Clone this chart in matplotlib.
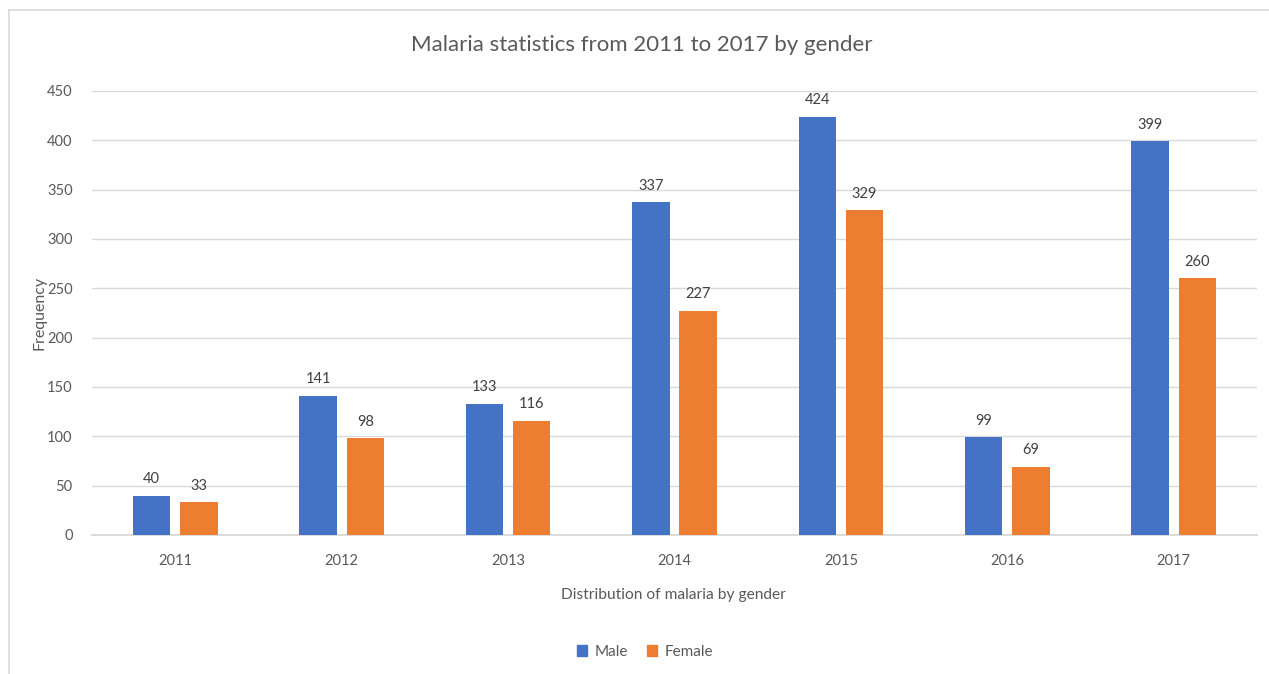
import matplotlib
matplotlib.use("Agg")
import matplotlib.pyplot as plt
from matplotlib.patches import Patch
import numpy as np

plt.rcParams['font.family'] = ['Lato', 'DejaVu Sans']

years = ["2011", "2012", "2013", "2014", "2015", "2016", "2017"]
male = [40, 141, 133, 337, 424, 99, 399]
female = [33, 98, 116, 227, 329, 69, 260]

BLUE = "#4472c4"
ORANGE = "#ed7d31"
GREY = "#595959"

fig = plt.figure(figsize=(12.69, 6.74), dpi=100)
ax = fig.add_axes([92 / 1269, 1 - 535 / 674, (1257 - 92) / 1269, (535 - 91) / 674])

x = np.arange(len(years))
width = 0.225
off = 0.142
b1 = ax.bar(x - off, male, width, color=BLUE, label="Male", zorder=3)
b2 = ax.bar(x + off, female, width, color=ORANGE, label="Female", zorder=3)

for bars in (b1, b2):
    for r in bars:
        ax.annotate(str(int(r.get_height())), (r.get_x() + r.get_width() / 2, r.get_height()),
                    xytext=(0, 7), textcoords="offset points", ha="center", va="bottom",
                    fontsize=10.5, color="#404040")

ax.set_xlim(-0.5, len(years) - 0.5)
ax.set_ylim(0, 450)
ax.set_yticks(range(0, 451, 50))
ax.set_xticks(x)
ax.set_xticklabels(years)
ax.tick_params(axis="both", length=0, labelsize=10.5, labelcolor=GREY)
ax.tick_params(axis="x", pad=14)
ax.tick_params(axis="y", pad=14)
ax.grid(axis="y", color="#d9d9d9", linewidth=1, zorder=0)
for s in ("top", "right", "left"):
    ax.spines[s].set_visible(False)
ax.spines["bottom"].set_color("#d9d9d9")
ax.spines["bottom"].set_linewidth(1.3)

fig.text(642 / 1269, 1 - 45 / 674, "Malaria statistics from 2011 to 2017 by gender",
         ha="center", va="center", fontsize=16, color=GREY)
fig.text(40 / 1269, 1 - 313 / 674, "Frequency", rotation=90, ha="center", va="center",
         fontsize=11.5, color=GREY)
fig.text(673 / 1269, 1 - 595 / 674, "Distribution of malaria by gender", ha="center",
         va="center", fontsize=11.2, color=GREY)

handles = [Patch(color=BLUE, label="Male"), Patch(color=ORANGE, label="Female")]
fig.legend(handles=handles, loc="center", bbox_to_anchor=(645 / 1269, 1 - 652 / 674), ncol=2,
           frameon=False, fontsize=11, labelcolor=GREY, handlelength=0.7, handleheight=0.7,
           columnspacing=1.2, handletextpad=0.5)

# chart frame
fig.add_artist(plt.Line2D([9 / 1269, 9 / 1269], [0, 1 - 10 / 674], transform=fig.transFigure,
                          color="#d9d9d9", linewidth=1.2))
fig.add_artist(plt.Line2D([9 / 1269, 1], [1 - 10 / 674, 1 - 10 / 674], transform=fig.transFigure,
                          color="#d9d9d9", linewidth=1.2))

fig.savefig("out.png", dpi=100)
